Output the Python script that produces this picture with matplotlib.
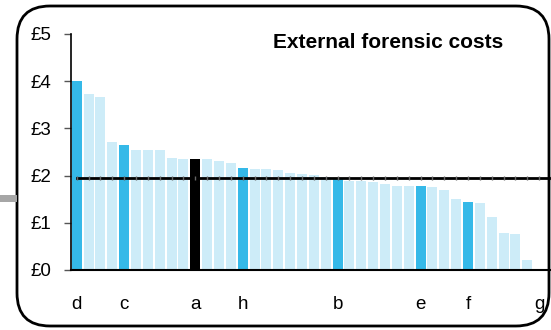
import matplotlib
matplotlib.use("Agg")
from matplotlib import pyplot as plt
from matplotlib.patches import FancyBboxPatch, Rectangle

plt.rcParams['font.family'] = ['Liberation Sans', 'DejaVu Sans']

# bar values (£ per unit), sorted descending; last slot is 'g' with no bar
values = [4.00, 3.72, 3.66, 2.72, 2.64, 2.55, 2.55, 2.55, 2.38, 2.36,
          2.36, 2.36, 2.30, 2.26, 2.17, 2.15, 2.15, 2.11, 2.05, 2.03,
          2.01, 1.97, 1.94, 1.88, 1.88, 1.86, 1.82, 1.79, 1.77, 1.77,
          1.75, 1.69, 1.50, 1.45, 1.43, 1.13, 0.79, 0.77, 0.22, 0.0]
# highlighted forces and their labels
labels = {0: 'd', 4: 'c', 10: 'a', 14: 'h', 22: 'b', 29: 'e', 33: 'f', 39: 'g'}
selected = 'a'
average = 1.95
y_ticks = [0, 1, 2, 3, 4, 5]
y_ticklabels = ['£0', '£1', '£2', '£3', '£4', '£5']
title = 'External forensic costs'

light = '#CDECF8'
dark = '#35B9E8'

fig = plt.figure(figsize=(5.51, 3.30), dpi=100)

# rounded frame and the grey stub on the left
frame = FancyBboxPatch((17 / 551, 4 / 330), 532 / 551, 320 / 330,
                       boxstyle='round,pad=0,rounding_size=0.06',
                       transform=fig.transFigure, fill=False,
                       edgecolor='black', linewidth=2, mutation_aspect=551 / 330)
fig.patches.append(frame)
fig.patches.append(Rectangle((0, 128 / 330), 17 / 551, 7 / 330,
                             transform=fig.transFigure, facecolor='#A6A6A6',
                             edgecolor='none'))

ax = fig.add_axes([71 / 551, 60 / 330, 480 / 551, 236 / 330])

colors = []
for i in range(len(values)):
    if labels.get(i) == selected:
        colors.append('black')
    elif i in labels:
        colors.append(dark)
    else:
        colors.append(light)

xs = list(range(len(values)))
ax.bar(xs, values, width=0.84, color=colors, linewidth=0, zorder=2)

# national average line with faint ticks at each force
line_x = list(range(len(values) + 1))
ax.plot(line_x, [average] * len(line_x), color='black', linewidth=2,
        marker='|', markersize=3, markeredgewidth=1, markeredgecolor='#666666',
        zorder=3)

ax.set_xlim(-0.48, 40.0)
ax.set_ylim(0, 5)
ax.set_yticks(y_ticks)
ax.set_yticklabels(y_ticklabels, fontsize=13.5)
ax.set_xticks(list(labels.keys()))
ax.set_xticklabels(list(labels.values()), fontsize=13.5)
ax.tick_params(axis='y', direction='out', length=5, width=1, color='#555555', pad=9)
ax.tick_params(axis='x', length=0, pad=19)

ax.spines['top'].set_visible(False)
ax.spines['right'].set_visible(False)
ax.spines['left'].set_linewidth(1.2)
ax.spines['bottom'].set_linewidth(1.5)
ax.patch.set_visible(False)

fig.text(388 / 551, 1 - 42 / 330, title, fontsize=15, fontweight='bold',
         ha='center', va='center')

fig.savefig('out.png', dpi=100)
